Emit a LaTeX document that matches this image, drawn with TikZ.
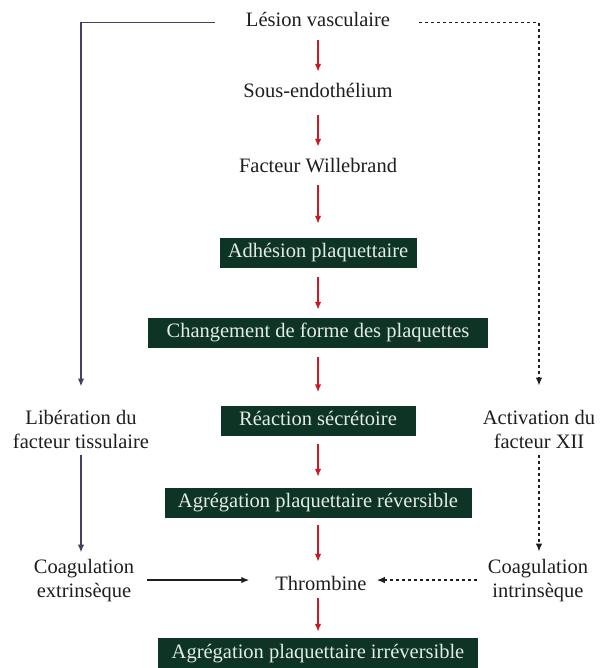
\documentclass[tikz,border=0pt]{standalone}
\usepackage{fontspec}
\setmainfont{Liberation Serif}
\usetikzlibrary{arrows.meta}
\definecolor{boxgreen}{RGB}{14,52,38}
\definecolor{boxtext}{RGB}{228,236,228}
\definecolor{redarr}{RGB}{205,25,35}
\definecolor{leftcol}{RGB}{70,62,100}
\definecolor{txt}{RGB}{30,30,30}
\begin{document}
\begin{tikzpicture}[x=1pt,y=-1pt,
  every node/.style={font=\fontsize{20.5}{24}\selectfont, text=txt, inner sep=0pt},
  lbl/.style={text height=14pt, text depth=5pt, anchor=base},
  two/.style={align=center, anchor=base},
  box/.style={fill=boxgreen, text=boxtext, minimum height=30pt, text height=14pt, text depth=5pt},
  redar/.style={draw=redarr, line width=1.5pt, -{Latex[length=8pt,width=6.5pt]}},
  leftln/.style={draw=leftcol, line width=1.8pt, -{Latex[length=8pt,width=6.5pt]}},
  dashln/.style={draw=txt, line width=1.4pt, dash pattern=on 3pt off 3pt, -{Latex[length=8pt,width=6.5pt]}},
  plainar/.style={draw=txt, line width=1.4pt, -{Latex[length=8pt,width=6.5pt]}}
]
\fill[white] (0,0) rectangle (599,668);
\useasboundingbox (0,0) rectangle (599,668);

\node[lbl] (les) at (318,27) {Lésion vasculaire};
\node[lbl] (sous) at (318,98) {Sous-endothélium};
\node[lbl] (fw) at (318,173) {Facteur Willebrand};
\node[box, minimum width=197pt] (adh) at (318,253) {Adhésion plaquettaire};
\node[box, minimum width=340pt] (chg) at (318,333) {Changement de forme des plaquettes};
\node[box, minimum width=195pt] (rea) at (318,420.5) {Réaction sécrétoire};
\node[box, minimum width=307pt] (agr) at (318,503) {Agrégation plaquettaire réversible};
\node[lbl] (thr) at (321,590) {Thrombine};
\node[box, minimum width=320pt, minimum height=32pt] (irr) at (318,654) {Agrégation plaquettaire irréversible};

\node[two] (lib) at (81,448) {Libération du\\facteur tissulaire};
\node[two] (act) at (539,448) {Activation du\\facteur XII};
\node[two] (ce) at (84,597) {Coagulation\\extrinsèque};
\node[two] (ci) at (538,597) {Coagulation\\intrinsèque};

\draw[redar, shorten <=8pt, shorten >=12pt] (les.south) -- (sous.north);
\draw[redar, shorten <=12pt, shorten >=12pt] (sous.south) -- (fw.north);
\draw[redar, shorten <=7pt, shorten >=14pt] (fw.south) -- (adh.north);
\draw[redar, shorten <=9pt, shorten >=8pt] (adh.south) -- (chg.north);
\draw[redar, shorten <=9pt, shorten >=13pt] (chg.south) -- (rea.north);
\draw[redar, shorten <=8pt, shorten >=11pt] (rea.south) -- (agr.north);
\draw[redar, shorten <=7pt, shorten >=14pt] (agr.south) -- (agr.south |- thr.north);
\draw[redar, shorten <=3pt, shorten >=6pt] (thr.south -| irr.north) -- (irr.north);

\draw[leftln, shorten <=31pt, shorten >=23pt] (les.west) -| (lib.north);
\draw[leftln, shorten <=7pt, shorten >=6pt] (lib.south) -- (lib.south |- ce.north);
\draw[plainar, shorten <=13pt, shorten >=26pt] (ce.east) -- (ce.east -| thr.west);

\draw[dashln, shorten <=29pt, shorten >=24pt] (les.east) -| (act.north);
\draw[dashln, shorten <=7pt, shorten >=7pt] (act.south) -- (act.south |- ci.north);
\draw[dashln, shorten <=11pt, shorten >=10pt] (ci.west) -- (ci.west -| thr.east);
\end{tikzpicture}
\end{document}
